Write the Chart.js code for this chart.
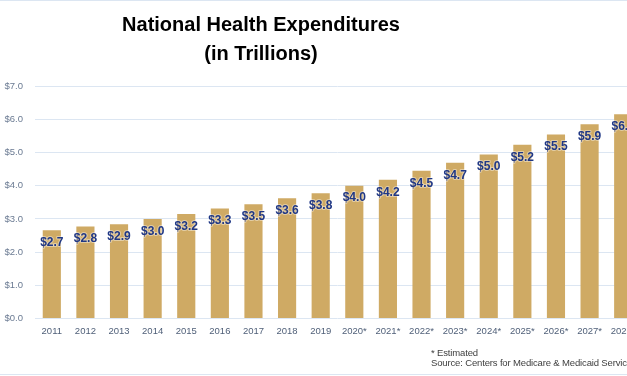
<!DOCTYPE html>
<html>
<head>
<meta charset="utf-8">
<script src="https://cdn.jsdelivr.net/npm/chart.js@4"></script>
<style>
  html, body { margin: 0; padding: 0; background: #fff; }
  body { width: 627px; height: 376px; overflow: hidden; position: relative; }
  .frameTop { position: absolute; left: 0; top: 0; width: 627px; height: 1px; background: #dce6f2; }
  .frameBottom { position: absolute; left: 0; top: 374px; width: 627px; height: 1px; background: #dce6f2; }
  .title {
    position: absolute; left: 61px; top: 10px; width: 400px; text-align: center;
    font-family: "Liberation Sans", Arial, sans-serif; font-weight: bold; font-size: 20px;
    line-height: 29px; color: #000;
  }
  .note {
    position: absolute; left: 431px; top: 348px; white-space: nowrap;
    font-family: "Liberation Sans", Arial, sans-serif; font-size: 9.5px; line-height: 10px;
    letter-spacing: -0.15px; color: #404040;
  }
  .chartBox { position: absolute; left: 0; top: 0; width: 660px; height: 376px; }
</style>
</head>
<body>
<div class="frameTop"></div>
<div class="chartBox"><canvas id="chart"></canvas></div>
<div class="title">National Health Expenditures<br>(in Trillions)</div>
<div class="note">* Estimated<br>Source: Centers for Medicare &amp; Medicaid Services</div>
<div class="frameBottom"></div>
<script>
const years = ["2011", "2012", "2013", "2014", "2015", "2016", "2017", "2018", "2019",
  "2020*", "2021*", "2022*", "2023*", "2024*", "2025*", "2026*", "2027*", "2028*"];
const spending = [2.66, 2.77, 2.84, 3.0, 3.15, 3.31, 3.44, 3.62, 3.77,
  4.0, 4.18, 4.45, 4.69, 4.94, 5.23, 5.54, 5.85, 6.15];
const spendingLabels = ["$2.7", "$2.8", "$2.9", "$3.0", "$3.2", "$3.3", "$3.5", "$3.6", "$3.8",
  "$4.0", "$4.2", "$4.5", "$4.7", "$5.0", "$5.2", "$5.5", "$5.9", "$6.2"];

const barColor = "#cfaa64";
const labelColor = "#1f3785";

// draw the value labels just inside the top of each bar
const barLabels = {
    id: "barLabels",
    afterDatasetsDraw(chart) {
        const ctx = chart.ctx;
        const meta = chart.getDatasetMeta(0);
        ctx.save();
        ctx.font = "bold 12px 'Liberation Sans', Arial, sans-serif";
        ctx.textAlign = "center";
        ctx.textBaseline = "middle";
        ctx.lineJoin = "round";
        meta.data.forEach((bar, i) => {
            const y = bar.y + 12.5;
            ctx.strokeStyle = "rgba(255,255,255,0.4)";
            ctx.lineWidth = 2;
            ctx.strokeText(spendingLabels[i], bar.x, y);
            ctx.fillStyle = labelColor;
            ctx.fillText(spendingLabels[i], bar.x, y);
        });
        ctx.restore();
    }
};

const ctx = document.querySelector("#chart").getContext("2d");

new Chart(ctx, {
    type: "bar",
    data: {
        labels: years,
        datasets: [{
            data: spending,
            backgroundColor: barColor,
            borderWidth: 0,
            barPercentage: 0.54,
            categoryPercentage: 1.0
        }]
    },
    options: {
        responsive: true,
        maintainAspectRatio: false,
        animation: false,
        layout: { padding: { top: 86, bottom: 32, left: 0, right: 20 } },
        scales: {
            x: {
                grid: { display: false, drawTicks: false },
                border: { display: false },
                ticks: {
                    color: "#4f5f78",
                    font: { family: "'Liberation Sans', Arial, sans-serif", size: 9.5 },
                    padding: 7,
                    maxRotation: 0,
                    autoSkip: false
                }
            },
            y: {
                min: 0,
                max: 7,
                afterFit(scale) { scale.width = 35; },
                grid: { color: "#dce6f2", lineWidth: 1, drawTicks: false },
                border: { display: false },
                ticks: {
                    stepSize: 1,
                    padding: 12,
                    color: "#6a7a92",
                    font: { family: "'Liberation Sans', Arial, sans-serif", size: 9.5 },
                    callback: (v) => "$" + v.toFixed(1)
                }
            }
        },
        plugins: {
            legend: { display: false },
            tooltip: { enabled: false }
        }
    },
    plugins: [barLabels]
});
</script>
</body>
</html>
